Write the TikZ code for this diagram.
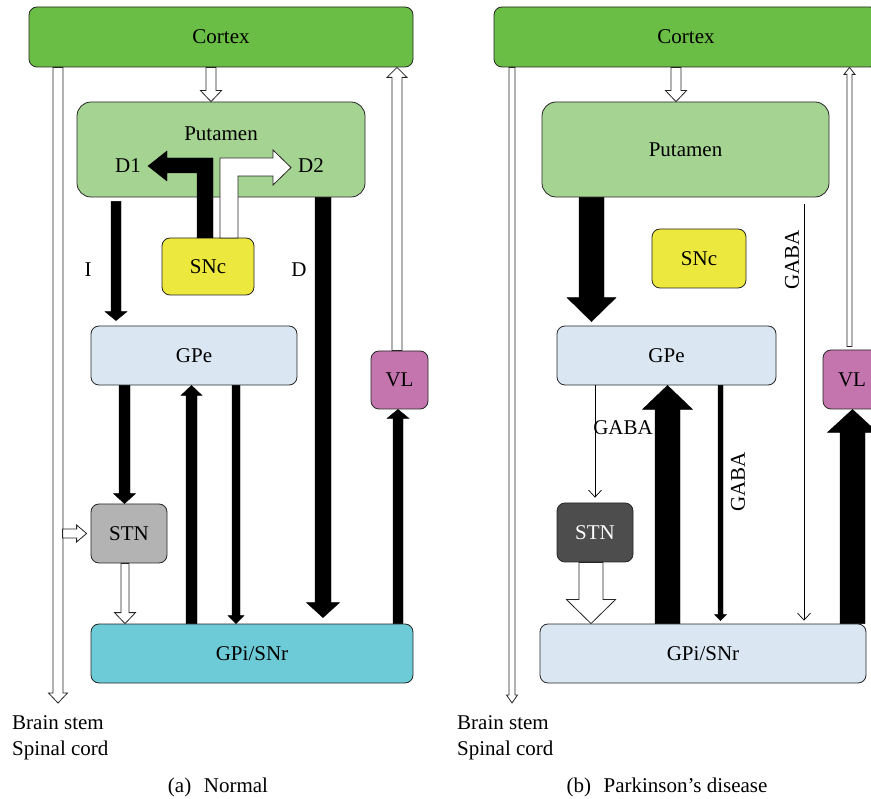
\documentclass[tikz,border=0pt]{standalone}
\usepackage{fontspec}
\setmainfont{Liberation Serif}
\usetikzlibrary{calc,arrows.meta}

\definecolor{cortexgreen}{HTML}{6ABD45}
\definecolor{putgreen}{HTML}{A5D391}
\definecolor{sncyellow}{HTML}{EDE83D}
\definecolor{paleblue}{HTML}{DAE6F2}
\definecolor{stngrey}{HTML}{B3B3B3}
\definecolor{stndark}{HTML}{4D4D4D}
\definecolor{gpicyan}{HTML}{6DCBD7}
\definecolor{vlpurple}{HTML}{C475AE}

\tikzset{
  region/.style={draw=black!85, line width=0.8pt, rounded corners=8pt, inner sep=0pt},
  blk/.style={fill=black, draw=black, line width=0.4pt},
  hollow/.style={fill=white, draw=black!85, line width=0.8pt},
  thinarr/.style={line width=0.7pt, -{Straight Barb[length=7pt,width=13pt]}},
}

% block arrows: style, start, tip, half shaft, half head, head length
\newcommand{\blockdown}[6]{%
  \draw[#1] let \p1=(#2), \p2=(#3) in
    (\x1-#4pt,\y1) -- (\x1-#4pt,\y2+#6pt) -- (\x1-#5pt,\y2+#6pt) -- (\x1,\y2)
    -- (\x1+#5pt,\y2+#6pt) -- (\x1+#4pt,\y2+#6pt) -- (\x1+#4pt,\y1) -- cycle;}
\newcommand{\blockup}[6]{%
  \draw[#1] let \p1=(#2), \p2=(#3) in
    (\x1-#4pt,\y1) -- (\x1-#4pt,\y2-#6pt) -- (\x1-#5pt,\y2-#6pt) -- (\x1,\y2)
    -- (\x1+#5pt,\y2-#6pt) -- (\x1+#4pt,\y2-#6pt) -- (\x1+#4pt,\y1) -- cycle;}
\newcommand{\blockright}[6]{%
  \draw[#1] let \p1=(#2), \p2=(#3) in
    (\x1,\y1-#4pt) -- (\x2-#6pt,\y1-#4pt) -- (\x2-#6pt,\y1-#5pt) -- (\x2,\y1)
    -- (\x2-#6pt,\y1+#5pt) -- (\x2-#6pt,\y1+#4pt) -- (\x1,\y1+#4pt) -- cycle;}

\begin{document}
\begin{tikzpicture}[x=1pt,y=-1pt,font=\fontsize{21}{26}\selectfont]
\useasboundingbox (0,0) rectangle (871,799);

% (a) Normal
\node[region, fill=cortexgreen, minimum width=384pt, minimum height=60pt] (cortexA) at (221,37) {Cortex};
\node[region, rounded corners=14pt, fill=putgreen, minimum width=288pt, minimum height=95pt] (putA) at (221,149.5) {};
\node (putAtxt) at (221,134) {Putamen};
\node[region, fill=sncyellow, minimum width=92pt, minimum height=57pt] (sncA) at (208,266.5) {SNc};
\node[region, fill=paleblue, minimum width=206pt, minimum height=59pt] (gpeA) at (194,355.5) {GPe};
\node[region, fill=stngrey, minimum width=76pt, minimum height=59pt] (stnA) at (129,533.5) {STN};
\node[region, fill=gpicyan, minimum width=322pt, minimum height=59pt] (gpiA) at (252,653.5) {GPi/SNr};
\node[region, fill=vlpurple, minimum width=57pt, minimum height=58pt] (vlA) at (399.5,380) {VL};

\node (d1A) at (128,166) {D1};
\node (d2A) at (311,166) {D2};
\node (iA) at (88,270) {I};
\node (dA) at (299,270) {D};

\coordinate (bsA) at (58,703);
\node[align=left, anchor=west, inner sep=0pt] (bsAtxt) at (12,738) {Brain stem\\Spinal cord};

\blockdown{hollow}{cortexA.south -| bsA}{bsA}{5}{9.5}{10}
\blockright{hollow}{[xshift=-28pt]stnA.west}{[xshift=-4pt]stnA.west}{4.5}{8.5}{10}
\blockup{hollow}{[xshift=-2.5pt]vlA.north}{cortexA.south}{5}{10}{10}
\blockdown{hollow}{[xshift=-10pt]cortexA.south}{putA.north}{5}{10.5}{11}

\draw[blk] (213,238) -- (213,158) -- (167,158) -- (167,151) -- (148,166) -- (167,181) -- (167,173) -- (197,173) -- (197,238) -- cycle;
\draw[hollow] (220,238) -- (220,158) -- (273,158) -- (273,150) -- (291,167.5) -- (273,185) -- (273,176) -- (238,176) -- (238,238) -- cycle;

\blockdown{blk}{[xshift=-105pt,yshift=-4pt]putA.south}{[yshift=5pt]gpeA.north}{5}{11}{9}
\blockdown{blk}{[xshift=102pt]putA.south}{[yshift=6pt]gpiA.north}{8}{16.5}{15}
\blockdown{blk}{[xshift=-69.5pt]gpeA.south}{stnA.north}{5.5}{11}{10}
\blockdown{hollow}{[xshift=-4pt]stnA.south}{gpiA.north}{4}{10.5}{11}
\blockup{blk}{[xshift=-60.5pt]gpiA.north}{gpeA.south}{5.5}{10.5}{10}
\blockdown{blk}{[xshift=42pt]gpeA.south}{gpiA.north}{4}{8}{8}
\blockup{blk}{[xshift=146pt]gpiA.north}{vlA.south}{5}{11}{9}

\node (capA) at (218,787) {(a)\hspace{0.6em}Normal};

% (b) Parkinson's disease
\node[region, fill=cortexgreen, minimum width=384pt, minimum height=60pt] (cortexB) at (686,37) {Cortex};
\node[region, rounded corners=14pt, fill=putgreen, minimum width=287pt, minimum height=95pt] (putB) at (685.5,149.5) {Putamen};
\node[region, fill=sncyellow, minimum width=94pt, minimum height=59pt] (sncB) at (699,258.5) {SNc};
\node[region, fill=paleblue, minimum width=219pt, minimum height=59pt] (gpeB) at (666.5,355.5) {GPe};
\node[region, fill=stndark, text=white, minimum width=76pt, minimum height=59pt] (stnB) at (595,532.5) {STN};
\node[region, fill=paleblue, minimum width=326pt, minimum height=59pt] (gpiB) at (703,653.5) {GPi/SNr};
\node[region, fill=vlpurple, minimum width=58pt, minimum height=59pt] (vlB) at (852,379.5) {VL};

\coordinate (bsB) at (512,703);
\node[align=left, anchor=west, inner sep=0pt] (bsBtxt) at (457,738) {Brain stem\\Spinal cord};

\blockdown{hollow}{cortexB.south -| bsB}{bsB}{3}{5.5}{8}
\blockup{hollow}{[xshift=-2.5pt,yshift=3pt]vlB.north}{cortexB.south}{2.5}{5.5}{7}
\blockdown{hollow}{[xshift=-10pt]cortexB.south}{putB.north}{5}{10.5}{11}

\blockdown{blk}{[xshift=-94pt]putB.south}{[yshift=4pt]gpeB.north}{12.5}{24.5}{24}
\blockdown{hollow}{[xshift=-4pt]stnB.south}{gpiB.north}{12}{24.5}{24}
\blockup{blk}{[xshift=-35.5pt]gpiB.north}{gpeB.south}{12.5}{25}{24}
\blockdown{blk}{[xshift=54pt]gpeB.south}{[yshift=3pt]gpiB.north}{2.5}{6}{6}
\blockup{blk}{[xshift=149.5pt]gpiB.north}{vlB.south}{12.5}{25}{23}

\coordinate (gabaTopB) at (804,204);
\draw[thinarr, shorten >=3pt] (gabaTopB) -- (gabaTopB |- gpiB.north);
\draw[thinarr, shorten >=5pt] (gpeB.south -| stnB.north) -- (stnB.north);

\node (gabaB1) at (623,428) {GABA};
\node[rotate=90] (gabaB2) at (738,482) {GABA};
\node[rotate=90] (gabaB3) at (792,260) {GABA};

\node (capB) at (667,787) {(b)\hspace{0.6em}Parkinson’s disease};
\end{tikzpicture}
\end{document}
